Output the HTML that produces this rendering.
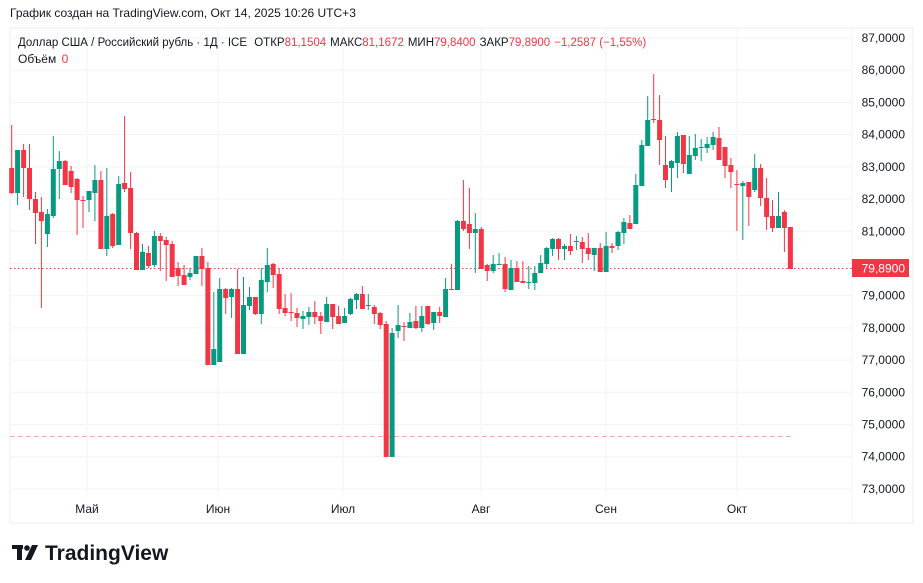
<!DOCTYPE html>
<html><head><meta charset="utf-8"><style>
body{margin:0;background:#fff;width:923px;height:583px;overflow:hidden;font-family:"Liberation Sans",sans-serif}
svg{position:absolute;left:0;top:0}
</style></head><body>
<svg id="s" width="923" height="583" xmlns="http://www.w3.org/2000/svg" font-family="Liberation Sans, sans-serif">
<rect x="10" y="28" width="903" height="495" fill="none" stroke="#eceef2" stroke-width="1"/>
<line x1="852" y1="28" x2="852" y2="523" stroke="#f0f3fa"/>
<g id="grid"></g>
<line x1="10" y1="268.5" x2="852" y2="268.5" stroke="#f23645" stroke-dasharray="1.5,2.5"/>
<line x1="10" y1="436.5" x2="792" y2="436.5" stroke="#f7a8ae" stroke-dasharray="5,3"/>
<g id="c"></g>
<rect x="852" y="259" width="57" height="18" fill="#f23645"/>
<text x="905" y="272.5" font-size="12" fill="#fff" text-anchor="end">79,8900</text>
<text x="10" y="17" font-size="12" fill="#131722">График создан на TradingView.com, Окт 14, 2025 10:26 UTC+3</text>
<text x="18" y="46" font-size="11.5" fill="#131722">Доллар США / Российский рубль · 1Д · ICE  <tspan dx="4">ОТКР</tspan><tspan fill="#f23645">81,1504</tspan><tspan dx="4">МАКС</tspan><tspan fill="#f23645">81,1672</tspan><tspan dx="4">МИН</tspan><tspan fill="#f23645">79,8400</tspan><tspan dx="4">ЗАКР</tspan><tspan fill="#f23645">79,8900</tspan><tspan dx="4" fill="#f23645">−1,2587 (−1,55%)</tspan></text>
<text x="18" y="63" font-size="12" fill="#131722">Объём <tspan fill="#f23645" dx="2">0</tspan></text>
<g font-size="12" fill="#131722" text-anchor="middle">
<text x="87" y="513">Май</text><text x="218" y="513">Июн</text><text x="343" y="513">Июл</text><text x="481" y="513">Авг</text><text x="606" y="513">Сен</text><text x="737" y="513">Окт</text>
</g>
<g fill="#131722"><rect x="12" y="545" width="11" height="4"/><rect x="17" y="545" width="5" height="15"/><circle cx="27" cy="548" r="2.8"/><polygon points="32,545 38,545 31,560 25,560"/></g>
<text x="45" y="560" font-size="21" font-weight="bold" fill="#131722">TradingView</text>
</svg>
<script>
var g=document.getElementById('grid'),h='';
var labs=['87,0000','86,0000','85,0000','84,0000','83,0000','82,0000','81,0000','80,0000','79,0000','78,0000','77,0000','76,0000','75,0000','74,0000','73,0000'];
for(var k=0;k<15;k++){var y=38+k*32.21;h+='<line x1="10" y1="'+y+'" x2="852" y2="'+y+'" stroke="#f0f3fa"/>';
if(k!=7)h+='<text x="905" y="'+(y+4)+'" font-size="12" fill="#131722" text-anchor="end">'+labs[k]+'</text>';}
[87,218,343,481,606,737].forEach(function(x){h+='<line x1="'+x+'" y1="28" x2="'+x+'" y2="497" stroke="#f0f3fa"/>';});
g.innerHTML=h;
var d=[[168,193,125,194],[193,150,150,205],[150,168,144,197],[168,199,144,210],[199,213,192,244],[212,221,197,308],[234,214,209,247],[216,169,136,218],[169,161,151,199],[161,185,160,185],[171,187,166,193],[179,200,178,235],[200,201,196,228],[200,191,191,212],[193,180,165,221],[180,249,171,249],[249,216,168,256],[214,246,213,248],[245,184,176,245],[183,189,116,192],[188,233,172,249],[233,270,232,270],[270,252,244,270],[253,266,246,268],[265,236,231,267],[236,241,233,271],[240,245,237,281],[244,277,241,277],[268,276,262,286],[275,285,265,285],[277,273,268,280],[274,256,256,274],[256,269,248,286],[268,365,262,365],[365,349,292,365],[362,289,278,362],[289,298,288,314],[297,289,288,318],[289,354,269,354],[354,305,277,354],[306,297,287,310],[297,314,297,315],[314,280,268,324],[282,265,248,292],[264,275,263,288],[274,309,268,314],[308,313,294,316],[312,312.5,293,321],[313,318,308,327],[319,316,311,329],[317,312,307,325],[312,317,301,324],[316,321,312,334],[322,304,297,322],[304,317,304,329],[316,324,306,324],[323,316,308,323],[314,299,298,315],[300,294,293,309],[294,309,286,309],[306,305,294,310],[307,314,305,324],[313,325,312,329],[324,457,321,457],[457,333,328,457],[331,325,305,338],[326,326.5,322,341],[328,322,313,328],[321,328,306,329],[328,316,306,332],[306,324,306,325],[323,312,312,330],[312,316,307,323],[317,289,278,317],[289,289.5,264,290],[290,221,220,290],[221,229,180,231],[224,233,188,249],[233,229,213,273],[229,269,227,269],[265,271,264,281],[271,264,255,273],[265,264,253,265],[264,289,257,292],[290,268,260,290],[268,282,261,282],[281,283,261,283],[282,282,266,289],[283,273,266,290],[273,263,255,273],[264,248,247,268],[249,239,238,256],[239,249,238,260],[249,246,244,260],[246,251,234,255],[242,241,236,250],[242,249,237,263],[248,254,233,260],[255,248,248,271],[248,272,243,272],[272,246,232,272],[246,248,243,253],[246,232,231,250],[233,222,218,244],[223,229,215,229],[224,185,174,224],[186,145,140,186],[146,120,96,146],[119,120,74,123],[120,140,95,165],[165,180,136,188],[168,161,160,192],[163,136,132,178],[135,164,135,173],[174,155,136,174],[156,148,134,160],[147,147,139,161],[148,144,137,153],[145,137,132,150],[138,160,127,160],[147,166,147,178],[165,172,158,188],[184,184.5,170,231],[186,183,181,240],[182,197,182,226],[190,168,154,192],[168,198,164,206],[198,217,178,230],[216,228,200,232],[228,216,192,228],[212,228,210,252],[227,269,227,269]];
var s='';
d.forEach(function(c,i){var x=11.7+i*5.944;var col=(c[1]>c[0])?'#f23645':'#089981';
var t=Math.min(c[0],c[1]),b=Math.max(c[0],c[1]);if(b-t<1)b=t+1;
s+='<line x1="'+x.toFixed(1)+'" y1="'+c[2]+'" x2="'+x.toFixed(1)+'" y2="'+c[3]+'" stroke="'+col+'"/>';
s+='<rect x="'+(x-2.5).toFixed(1)+'" y="'+t+'" width="5" height="'+(b-t)+'" fill="'+col+'"/>';});
document.getElementById('c').innerHTML=s;
</script>
</body></html>
